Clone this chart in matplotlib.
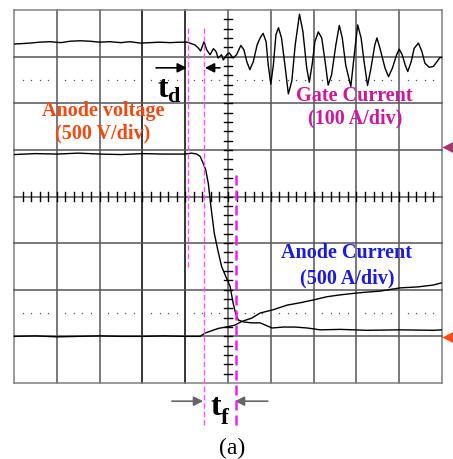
import numpy as np
import matplotlib
matplotlib.use('Agg')
import matplotlib.pyplot as plt

# scope traces, time and amplitude in screen divisions (10 x 8 grid)
gate_t = [0, 0.2, 0.37, 0.6, 0.84, 1.1, 1.31, 1.55, 1.78, 2.0, 2.24, 2.5, 2.71, 2.95,
          3.18, 3.4, 3.64, 3.88, 4.04, 4.11, 4.23, 4.31, 4.36, 4.44, 4.50, 4.58, 4.66,
          4.72, 4.77, 4.85, 4.89, 4.97, 5.03, 5.12, 5.20, 5.30, 5.37, 5.44, 5.51, 5.59,
          5.68, 5.75, 5.82, 5.89, 5.94, 6.00, 6.06, 6.12, 6.18, 6.25, 6.33, 6.41, 6.49,
          6.57, 6.67, 6.75, 6.84, 6.90, 6.97, 7.03, 7.11, 7.19, 7.27, 7.34, 7.42, 7.52,
          7.60, 7.67, 7.75, 7.87, 7.95, 8.03, 8.11, 8.18, 8.26, 8.34, 8.43, 8.48, 8.55,
          8.67, 8.75, 8.84, 8.94, 9.00, 9.07, 9.14, 9.20, 9.28, 9.35, 9.45, 9.53, 9.60,
          9.70, 9.80, 9.88, 9.95, 10.0]
gate_i = [7.27, 7.28, 7.29, 7.31, 7.32, 7.30, 7.33, 7.34, 7.33, 7.31, 7.32, 7.30, 7.32,
          7.29, 7.30, 7.31, 7.30, 7.31, 7.31, 7.29, 7.25, 7.18, 7.12, 7.32, 7.15, 7.04,
          7.17, 7.11, 6.97, 7.04, 6.93, 7.04, 7.08, 6.97, 7.04, 7.24, 7.15, 6.89, 6.72,
          6.89, 7.25, 7.40, 7.50, 7.32, 6.82, 6.41, 6.82, 7.47, 7.62, 7.40, 6.82, 6.20,
          6.47, 7.25, 7.91, 7.54, 6.75, 6.45, 6.86, 7.32, 7.53, 7.40, 6.89, 6.39, 6.61,
          7.25, 7.67, 7.40, 6.82, 6.36, 7.04, 7.68, 7.40, 6.89, 6.38, 6.75, 7.25, 7.40,
          7.18, 6.75, 6.57, 6.75, 7.04, 7.16, 7.04, 6.82, 6.68, 6.89, 7.18, 7.29, 7.11,
          6.86, 6.77, 6.79, 6.89, 6.98, 6.98]

volt_t = [0, 0.5, 1.0, 1.5, 2.0, 2.5, 3.0, 3.5, 4.0, 4.15, 4.27, 4.35, 4.42, 4.48, 4.54,
          4.60, 4.68, 4.76, 4.85, 4.95, 5.05, 5.12, 5.18, 5.24, 5.36, 5.55, 5.75, 6.03,
          6.29, 6.57, 6.85, 7.15, 7.62, 8.25, 9.02, 9.79, 10.0]
volt_v = [4.90, 4.92, 4.91, 4.93, 4.91, 4.90, 4.92, 4.91, 4.91, 4.93, 4.91, 4.86, 4.71,
          4.57, 4.28, 3.79, 3.21, 2.86, 2.50, 2.28, 2.07, 1.71, 1.49, 1.35, 1.31, 1.29,
          1.29, 1.18, 1.20, 1.20, 1.18, 1.14, 1.15, 1.13, 1.14, 1.13, 1.14]

curr_t = [0, 0.5, 1.0, 1.5, 2.0, 2.5, 3.0, 3.5, 4.0, 4.35, 4.46, 4.77, 5.01, 5.16, 5.32,
          5.55, 5.75, 6.05, 6.38, 6.68, 6.99, 7.31, 7.62, 8.01, 8.25, 8.55, 9.02, 9.42,
          9.79, 10.0]
curr_i = [1.00, 1.01, 0.99, 1.00, 1.01, 1.00, 1.00, 1.01, 1.00, 1.00, 1.07, 1.17, 1.21,
          1.24, 1.32, 1.39, 1.50, 1.57, 1.67, 1.72, 1.78, 1.85, 1.89, 1.93, 1.95, 1.97,
          2.04, 2.06, 2.10, 2.15]

# cursor positions (divisions)
cursor_x = [4.07, 4.44, 5.19]

fig = plt.figure(figsize=(4.53, 4.59), dpi=100)
ax = fig.add_axes([14 / 453, 76 / 459, 428 / 453, 373 / 459])
ax.set_xlim(0, 10)
ax.set_ylim(0, 8)
ax.set_axis_off()

# graticule
for i in range(11):
    c = 'black' if i in (3, 4) else '#555555'
    if i in (0, 10):
        c = '#808080'
    ax.plot([i, i], [0, 8], color=c, lw=1.1, zorder=1, clip_on=False)
for j in range(9):
    c = '#808080' if j in (0, 8) else '#555555'
    ax.plot([0, 10], [j, j], color=c, lw=1.1, zorder=1, clip_on=False)

# minor ticks on centre lines
for yy in np.arange(0.2, 8, 0.2):
    ax.plot([4.895, 5.105], [yy, yy], color='black', lw=1.0, zorder=1)
for xx in np.arange(0.2, 10, 0.2):
    ax.plot([xx, xx], [3.9, 4.1], color='black', lw=1.0, zorder=1)

# dotted reference lines
dots = [x for x in np.arange(0.2, 10, 0.2) if abs(x - round(x)) > 0.05]
for yy in (1.5, 6.5):
    ax.scatter(dots, [yy] * len(dots), s=1.0, color='#555555', zorder=1, lw=0)

# traces
ax.plot(gate_t, gate_i, color='black', lw=1.0, zorder=3)
ax.plot(volt_t, volt_v, color='black', lw=1.0, zorder=3)
ax.plot(curr_t, curr_i, color='black', lw=1.0, zorder=3)

# cursors
ax.plot([cursor_x[0]] * 2, [2.49, 7.62], color='#FF55FF', lw=1.0, ls=(0, (4, 2)), zorder=4)
ax.plot([cursor_x[1]] * 2, [-0.90, 7.62], color='#FF55FF', lw=1.0, ls=(0, (4, 2)),
        zorder=4, clip_on=False)
ax.plot([cursor_x[2]] * 2, [-0.90, 4.53], color='#EE22EE', lw=1.8, ls=(0, (4, 2)),
        zorder=4, clip_on=False)

# labels
serif = 'Liberation Serif'
ax.text(2.08, 5.84, 'Anode voltage', color='#F04A14', fontsize=14.5, fontweight='bold',
        family=serif, ha='center', va='center', zorder=5)
ax.text(2.08, 5.36, '(500 V/div)', color='#F04A14', fontsize=14.5, fontweight='bold',
        family=serif, ha='center', va='center', zorder=5)
ax.text(7.94, 6.16, 'Gate Current', color='#CC1899', fontsize=14.5, fontweight='bold',
        family=serif, ha='center', va='center', zorder=5)
ax.text(7.97, 5.67, '(100 A/div)', color='#CC1899', fontsize=14.5, fontweight='bold',
        family=serif, ha='center', va='center', zorder=5)
ax.text(7.76, 2.79, 'Anode Current', color='#1A1AE0', fontsize=14.5, fontweight='bold',
        family=serif, ha='center', va='center', zorder=5)
ax.text(7.78, 2.25, '(500 A/div)', color='#1A1AE0', fontsize=14.5, fontweight='bold',
        family=serif, ha='center', va='center', zorder=5)

# t_d marker
arr = dict(arrowstyle='-|>', color='black', lw=1.2, mutation_scale=14, shrinkA=0, shrinkB=0)
ax.annotate('', xy=(4.04, 6.76), xytext=(3.32, 6.76), arrowprops=arr, zorder=5)
ax.annotate('', xy=(4.46, 6.76), xytext=(4.81, 6.76), arrowprops=arr, zorder=5)
ax.text(3.48, 6.14, 't', fontsize=23, fontweight='bold', family=serif, ha='center',
        va='baseline', zorder=5)
ax.text(3.58, 6.03, 'd', fontsize=16, fontweight='bold', family=serif, ha='left',
        va='baseline', zorder=5)

# t_f marker
arr2 = dict(arrowstyle='-|>', color='#666666', lw=1.2, mutation_scale=14, shrinkA=0,
            shrinkB=0)
ax.annotate('', xy=(4.42, -0.39), xytext=(3.69, -0.39), arrowprops=arr2,
            annotation_clip=False)
ax.annotate('', xy=(5.16, -0.39), xytext=(5.93, -0.39), arrowprops=arr2,
            annotation_clip=False)
ax.text(4.72, -0.69, 't', fontsize=23, fontweight='bold', family=serif, ha='center',
        va='baseline', clip_on=False)
ax.text(4.84, -0.87, 'f', fontsize=17, fontweight='bold', family=serif, ha='left',
        va='baseline', clip_on=False)

ax.text(5.09, -1.40, '(a)', fontsize=17, family=serif, ha='center', va='center',
        clip_on=False)

# channel reference markers on the right edge
ax.scatter([10.17], [5.06], marker='<', s=110, color='#A03A6A', clip_on=False, lw=0)
ax.scatter([10.17], [0.99], marker='<', s=110, color='#FF4A10', clip_on=False, lw=0)

fig.savefig('out.png', dpi=100)
